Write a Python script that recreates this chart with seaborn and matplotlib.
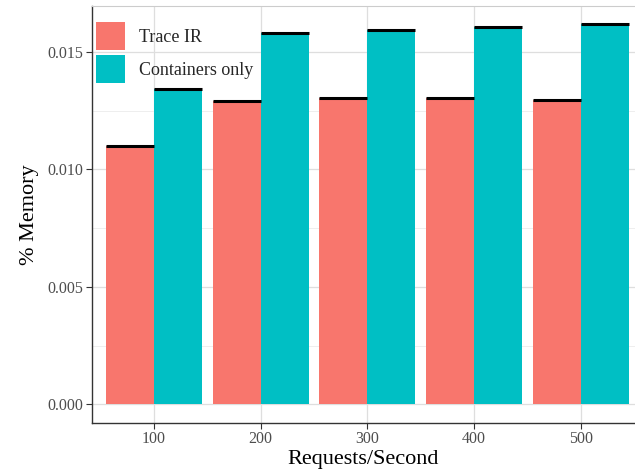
import numpy as np
import pandas as pd
import matplotlib
matplotlib.use("Agg")
import matplotlib.pyplot as plt
from matplotlib.patches import Patch
from matplotlib.ticker import MultipleLocator
import seaborn as sns

# ─── DATA ─────────────────────────────────────────────────────────────────────
RPS = [100, 200, 300, 400, 500]
TRACE_IR = [0.01099, 0.01292, 0.01302, 0.01303, 0.01295]
CONTAINERS = [0.01342, 0.01579, 0.01593, 0.01607, 0.01617]
SERIES = ["Trace IR", "Containers only"]
COLORS = ["#F8766D", "#00BFC4"]

df = pd.DataFrame({
    "rps": RPS * 2,
    "memory": TRACE_IR + CONTAINERS,
    "config": [SERIES[0]] * len(RPS) + [SERIES[1]] * len(RPS),
})

# ─── STYLE ────────────────────────────────────────────────────────────────────
sns.set_theme(style="white")
plt.rcParams["font.family"] = ["Liberation Serif", "DejaVu Serif"]

fig = plt.figure(figsize=(6.35, 4.71), dpi=100)
ax = fig.add_axes([0.1449, 0.1025, 0.8551, 0.8848])

sns.barplot(data=df, x="rps", y="memory", hue="config", hue_order=SERIES,
            palette=COLORS, native_scale=True, width=0.9, errorbar=None,
            saturation=1, linewidth=0, legend=False, ax=ax)

# thin black "error bar" line on top of each bar
for p in ax.patches:
    ax.hlines(p.get_height(), p.get_x(), p.get_x() + p.get_width(),
              color="black", lw=2.2, zorder=3)

ax.set_xlim(42, 551)
ax.set_ylim(-0.00078, 0.01695)
ax.set_xticks(RPS)
ax.set_yticks([0.0, 0.005, 0.010, 0.015])
ax.set_yticklabels(["0.000", "0.005", "0.010", "0.015"])
ax.yaxis.set_minor_locator(MultipleLocator(0.0025))

ax.set_axisbelow(True)
ax.grid(which="major", color="#DEDEDE", lw=0.9)
ax.grid(which="minor", axis="y", color="#EEEEEE", lw=0.7)

ax.tick_params(which="major", direction="out", length=4, width=0.8,
               color="#333333", labelcolor="#4D4D4D", labelsize=11.5,
               left=True, bottom=True, pad=2)
ax.tick_params(which="minor", length=0)

for side in ["left", "bottom"]:
    ax.spines[side].set_color("#333333")
    ax.spines[side].set_linewidth(1.0)
ax.spines["top"].set_color("#CCCCCC")
ax.spines["top"].set_linewidth(0.8)
ax.spines["right"].set_visible(False)

ax.set_xlabel("Requests/Second", fontsize=16, color="black", labelpad=2)
ax.set_ylabel("% Memory", fontsize=16, color="black", labelpad=6)

handles = [Patch(facecolor=c, edgecolor="none") for c in COLORS]
ax.legend(handles, SERIES, loc="upper left", bbox_to_anchor=(0.0074, 0.962),
          frameon=False, fontsize=13, handlelength=1.6, handleheight=2.05,
          labelspacing=0.24, handletextpad=0.78, borderaxespad=0,
          borderpad=0)

fig.savefig("out.png", dpi=100)
